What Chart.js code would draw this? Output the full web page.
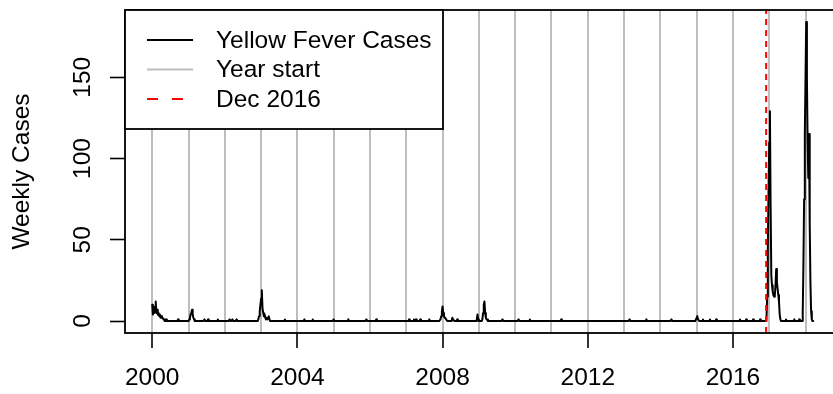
<!DOCTYPE html>
<html>
<head>
<meta charset="utf-8">
<script src="https://cdn.jsdelivr.net/npm/chart.js@4/dist/chart.umd.min.js"></script>
<style>
  html, body { margin: 0; padding: 0; background: #fff; overflow: hidden; }
  #wrap { width: 833px; height: 394px; overflow: hidden; }
</style>
</head>
<body>
<div id="wrap"><canvas id="yf" width="850" height="394"></canvas></div>
<script>
// Weekly yellow fever cases, one array per year (epi weeks 1..52)
const wk2000 = [10,4,8,5,9,12,5,7,4,5,3,4,2,3,2,2,1,1,0,0,1,0,0,0,0,0,
                0,0,0,0,0,0,0,0,0,0,0,1,0,0,0,0,0,0,0,0,0,0,0,0,0,0];
const wk2001 = [0,1,2,4,5,7,4,2,1,0,0,0,0,0,0,0,0,0,0,0,0,0,0,1,0,0,
                0,0,1,0,0,0,0,0,0,0,0,0,0,0,0,0,1,0,0,0,0,0,0,0,0,0];
const wk2002 = [0,0,0,0,0,0,0,1,0,0,0,1,0,0,0,0,0,1,0,0,0,0,0,0,0,0,
                0,0,0,0,0,0,0,0,0,0,0,0,0,0,0,0,0,0,0,0,0,0,1,3,6,10];
const wk2003 = [14,19,8,5,3,4,2,1,2,1,2,3,1,0,0,0,0,0,0,0,0,0,0,0,0,0,
                0,0,0,0,0,0,0,0,1,0,0,0,0,0,0,0,0,0,0,0,0,0,0,0,0,0];
const wk2004 = [0,0,0,0,0,0,0,0,0,0,1,0,0,0,0,0,0,0,0,0,0,0,1,0,0,0,
                0,0,0,0,0,0,0,0,0,0,0,0,0,0,0,0,0,0,0,0,0,0,0,0,0,0];
const wk2005 = [1,0,0,0,0,0,0,0,0,0,0,0,0,0,0,0,0,0,0,0,0,1,0,0,0,0,
                0,0,0,0,0,0,0,0,0,0,0,0,0,0,0,0,0,0,0,0,0,1,0,0,0,0];
const wk2006 = [0,0,0,0,0,0,0,0,0,1,0,0,0,0,0,0,0,0,0,0,0,0,0,0,0,0,
                0,0,0,0,0,0,0,0,0,0,0,0,0,0,0,0,0,0,0,0,0,0,0,0,0,0];
const wk2007 = [0,0,0,0,1,0,0,0,0,0,0,1,0,0,1,0,0,0,0,0,1,0,0,0,0,0,
                0,0,0,0,0,0,0,1,0,0,0,0,0,0,0,0,0,0,0,0,0,0,0,1,3,6];
const wk2008 = [9,5,3,2,2,1,1,0,0,0,0,0,0,0,2,1,1,0,0,0,0,1,0,0,0,0,
                0,0,0,0,0,0,0,0,0,0,0,0,0,0,0,0,0,0,0,0,0,0,0,1,4,1];
const wk2009 = [0,0,0,0,0,1,5,10,12,5,2,1,1,0,0,0,0,0,0,0,0,0,0,0,0,0,
                0,0,0,0,0,0,0,0,1,0,0,0,0,0,0,0,0,0,0,0,0,0,0,0,0,0];
const wk2010 = [0,0,0,0,0,1,0,0,0,0,0,0,0,0,0,0,0,0,0,0,0,1,0,0,0,0,
                0,0,0,0,0,0,0,0,0,0,0,0,0,0,0,0,0,0,0,0,0,0,0,0,0,0];
const wk2011 = [0,0,0,0,0,0,0,0,0,0,0,0,0,0,1,0,0,0,0,0,0,0,0,0,0,0,
                0,0,0,0,0,0,0,0,0,0,0,0,0,0,0,0,0,0,0,0,0,0,0,0,0,0];
const wk2012 = [0,0,0,0,0,0,0,0,0,0,0,0,0,0,0,0,0,0,0,0,0,0,0,0,0,0,
                0,0,0,0,0,0,0,0,0,0,0,0,0,0,0,0,0,0,0,0,0,0,0,0,0,0];
const wk2013 = [0,0,0,0,0,0,0,0,1,0,0,0,0,0,0,0,0,0,0,0,0,0,0,0,0,0,
                0,0,0,0,0,0,1,0,0,0,0,0,0,0,0,0,0,0,0,0,0,0,0,0,0,0];
const wk2014 = [0,0,0,0,0,0,0,0,0,0,0,0,0,0,0,0,1,0,0,0,0,0,0,0,0,0,
                0,0,0,0,0,0,0,0,0,0,0,0,0,0,0,0,0,0,0,0,0,0,0,0,0,0];
const wk2015 = [2,3,1,1,0,0,0,0,0,1,0,0,0,0,0,0,0,0,0,1,0,0,0,0,0,0,
                0,0,1,0,0,0,0,0,0,0,0,0,0,0,0,0,0,0,0,0,0,0,0,0,0,0];
const wk2016 = [0,0,0,0,0,0,0,0,0,0,1,0,0,0,0,0,0,0,0,1,0,0,0,0,0,0,
                0,0,0,1,0,0,0,0,0,0,0,0,0,1,0,0,0,0,0,0,0,0,0,15,45,80];
const wk2017 = [110,129,70,28,22,18,16,15,16,22,32,24,20,16,12,4,1,0,0,0,0,0,0,0,1,0,
                0,0,0,0,0,0,0,0,0,0,1,0,0,0,0,0,0,1,0,0,0,0,5,35,75,115];
const wk2018 = [150,184,150,110,88,115,60,25,6,1,0,0];

const seasonYears = [2000, 2001, 2002, 2003, 2004, 2005, 2006, 2007, 2008, 2009,
                     2010, 2011, 2012, 2013, 2014, 2015, 2016, 2017, 2018];
const seasonCases = [wk2000, wk2001, wk2002, wk2003, wk2004, wk2005, wk2006, wk2007, wk2008, wk2009,
                     wk2010, wk2011, wk2012, wk2013, wk2014, wk2015, wk2016, wk2017, wk2018];

// axis setup
const yearStarts = seasonYears;
const labelYears = [2000, 2004, 2008, 2012, 2016];
const yTicks = [0, 50, 100, 150];
const xMin = 1999.25, xMax = 2018.95;
const yMin = -7.36, yMax = 191.36;
const dec2016 = 2016.915;

const legendItems = [
    { text: 'Yellow Fever Cases', color: '#000000', dash: [] },
    { text: 'Year start', color: '#bebebe', dash: [] },
    { text: 'Dec 2016', color: '#ff0000', dash: [11, 14] }
];

const FONT = '"Liberation Sans", Arial, Helvetica, sans-serif';
const FONT_SIZE = 24.5;
Chart.defaults.font.family = FONT;

// week index -> decimal year
const casePoints = [];
seasonYears.forEach((yr, k) => {
    seasonCases[k].forEach((v, i) => casePoints.push({ x: yr + i / 52, y: v }));
});

// box, rotated y labels and the legend on top of everything
const decorPlugin = {
    id: 'decor',
    afterDraw(chart) {
        const ctx = chart.ctx;
        const a = chart.chartArea;
        const ys = chart.scales.y;

        ctx.save();
        ctx.strokeStyle = '#000';
        ctx.lineWidth = 1.8;
        ctx.strokeRect(a.left, a.top, a.right - a.left, a.bottom - a.top);

        ctx.fillStyle = '#000';
        ctx.font = FONT_SIZE + 'px ' + FONT;
        ctx.textAlign = 'center';
        ctx.textBaseline = 'alphabetic';
        yTicks.forEach(v => {
            ctx.save();
            ctx.translate(90, ys.getPixelForValue(v));
            ctx.rotate(-Math.PI / 2);
            ctx.fillText(String(v), 0, 0);
            ctx.restore();
        });
        ctx.save();
        ctx.translate(29, (a.top + a.bottom) / 2);
        ctx.rotate(-Math.PI / 2);
        ctx.fillText('Weekly Cases', 0, 0);
        ctx.restore();

        // legend
        const lx = a.left, ly = a.top, lw = 318, lh = 119;
        ctx.fillStyle = '#fff';
        ctx.fillRect(lx, ly, lw, lh);
        ctx.strokeStyle = '#000';
        ctx.lineWidth = 1.8;
        ctx.strokeRect(lx, ly, lw, lh);
        ctx.textAlign = 'left';
        ctx.textBaseline = 'middle';
        legendItems.forEach((it, i) => {
            const y = ly + 30 + i * 29.5;
            ctx.beginPath();
            ctx.strokeStyle = it.color;
            ctx.lineWidth = 2.2;
            ctx.setLineDash(it.dash);
            ctx.moveTo(lx + 22, y);
            ctx.lineTo(lx + 68, y);
            ctx.stroke();
            ctx.setLineDash([]);
            ctx.fillStyle = '#000';
            ctx.fillText(it.text, lx + 91, y + 1);
        });
        ctx.restore();
    }
};

new Chart(document.getElementById('yf'), {
    type: 'line',
    data: {
        datasets: [
            {
                label: 'Dec 2016',
                data: [{ x: dec2016, y: yMin }, { x: dec2016, y: yMax }],
                borderColor: '#ff0000',
                borderWidth: 2,
                borderDash: [6, 5],
                pointRadius: 0,
                order: 0
            },
            {
                label: 'Yellow Fever Cases',
                data: casePoints,
                borderColor: '#000000',
                borderWidth: 2,
                borderJoinStyle: 'round',
                borderCapStyle: 'round',
                pointRadius: 0,
                tension: 0,
                order: 1
            }
        ]
    },
    options: {
        responsive: false,
        animation: false,
        devicePixelRatio: 1,
        layout: { padding: { left: 0, top: 10, right: 10, bottom: 0 } },
        plugins: {
            legend: { display: false },
            tooltip: { enabled: false }
        },
        scales: {
            x: {
                type: 'linear',
                min: xMin,
                max: xMax,
                afterBuildTicks: scale => {
                    scale.ticks = yearStarts.map(v => ({ value: v }));
                },
                afterFit: scale => { scale.height = 394 - 333; },
                ticks: {
                    autoSkip: false,
                    maxRotation: 0,
                    minRotation: 0,
                    padding: 16,
                    color: '#000',
                    font: { size: FONT_SIZE },
                    callback: v => labelYears.includes(v) ? String(v) : ''
                },
                grid: {
                    color: '#bebebe',
                    lineWidth: 2,
                    drawTicks: true,
                    tickLength: 15,
                    tickWidth: 1.6,
                    tickColor: c => labelYears.includes(c.tick && c.tick.value) ? '#000' : 'rgba(0,0,0,0)'
                },
                border: { display: false }
            },
            y: {
                type: 'linear',
                min: yMin,
                max: yMax,
                afterBuildTicks: scale => {
                    scale.ticks = yTicks.map(v => ({ value: v }));
                },
                afterFit: scale => { scale.width = 125; },
                ticks: { display: false },
                grid: {
                    drawOnChartArea: false,
                    drawTicks: true,
                    tickLength: 15,
                    tickWidth: 1.6,
                    tickColor: '#000'
                },
                border: { display: false }
            }
        }
    },
    plugins: [decorPlugin]
});
</script>
</body>
</html>
